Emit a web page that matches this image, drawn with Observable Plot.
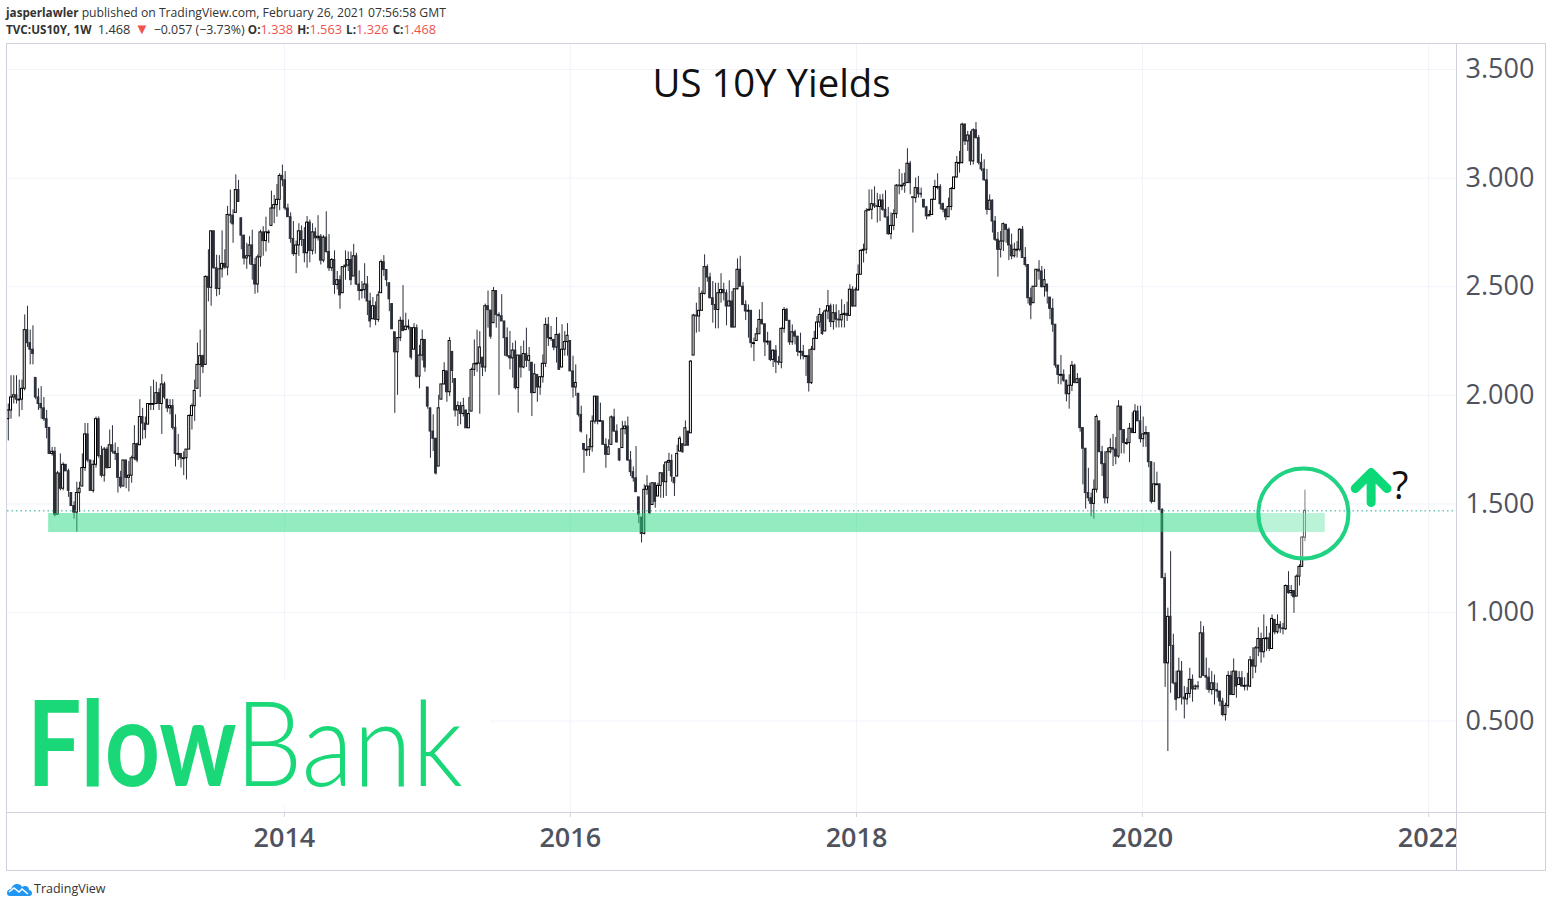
<!DOCTYPE html>
<html>
<head>
<meta charset="utf-8">
<script src="https://cdn.jsdelivr.net/npm/d3@7"></script>
<script src="https://cdn.jsdelivr.net/npm/@observablehq/plot@0.6"></script>
<style>
html,body{margin:0;padding:0;background:#fff;width:1552px;height:907px;overflow:hidden;font-family:"Open Sans",sans-serif;}
#hdr{position:absolute;left:6px;top:4px;font-size:12.2px;line-height:17px;color:#333;white-space:nowrap;}
#hdr b{font-weight:700;font-size:11.7px;}
#hdr .v{font-size:12.8px;}
#hdr .r{color:#ef5350;font-size:12.8px;}
#hdr .t{color:#ef5350;font-size:15px;line-height:12px;margin:0 1px;}
#hdr .lab{margin-left:4px;}
#box{position:absolute;left:6px;top:43px;width:1538px;height:826px;border:1px solid #cfd2dc;pointer-events:none;z-index:5;}
#chart{position:absolute;left:0;top:44px;}
#cover{position:absolute;left:1456px;top:812px;width:88px;height:57px;background:#fff;border-left:1px solid #cfd2dc;border-top:1px solid #cfd2dc;z-index:3;}
#logo{position:absolute;left:7px;top:681px;width:483px;height:124px;background:#fff;z-index:2;color:#1ad878;}
#logo span{position:absolute;top:-3px;line-height:124px;font-family:Lato,sans-serif;font-size:119px;white-space:nowrap;transform-origin:left center;}
#ft{position:absolute;left:34px;top:880px;font-size:12.5px;line-height:17px;color:#333;}
#cloud{position:absolute;left:6px;top:881px;}
</style>
</head>
<body>
<div id="hdr"><b>jasperlawler</b> published on TradingView.com, February 26, 2021 07:56:58 GMT<br>
<b>TVC:US10Y, 1W</b>&nbsp;&nbsp;<span class="v">1.468</span> <span class="t">▼</span> <span style="font-size:12.4px">−0.057 (−3.73%)</span> <b>O:</b><span class="r">1.338</span><b class="lab">H:</b><span class="r">1.563</span><b class="lab">L:</b><span class="r">1.326</span><b class="lab">C:</b><span class="r">1.468</span></div>
<div id="chart"></div>
<div id="cover"></div>
<div id="box"></div>
<div id="logo"><span style="left:20px;font-weight:700;transform:scaleX(.81);">Flow</span><span style="left:228px;font-weight:300;transform:scaleX(.897);">Bank</span></div>
<svg id="cloud" width="27" height="16" viewBox="0 0 27 16"><path d="M1 12c0-3 2-4 4-4 1-3 3-5 6-5 3 0 4 1 5 3 1-1 2-1 3-1 3 0 4 2 4 4 2 0 3 2 3 3 0 2-1 3-3 3H4c-2 0-3-1-3-3z" fill="#2196f3"/><path d="M3 11l5-4 5 4 3-3 6 5" stroke="#fff" stroke-width="1.6" fill="none"/></svg>
<div id="ft">TradingView</div>
<script>
const lastWeek = new Date(Date.UTC(2021, 1, 19));
const firstOpen = 1.89;
const lastPrice = 1.468;
const bandValues = [1.368, 1.456];
const yTicks = [0.5, 1, 1.5, 2, 2.5, 3, 3.5];
const yearTicks = [2014, 2016, 2018, 2020, 2022].map(y => new Date(Date.UTC(y, 0, 1)));

const closes = [
1.93,1.99,2.00,1.98,1.98,2.03,2.30,2.24,2.21,2.19,
1.99,1.96,1.94,1.89,1.85,1.73,1.74,1.45,1.64,1.57,
1.68,1.65,1.56,1.49,1.46,1.55,1.57,1.665,1.82,1.70,
1.56,1.68,1.89,1.72,1.63,1.75,1.665,1.77,1.74,1.73,
1.62,1.58,1.70,1.62,1.63,1.71,1.775,1.70,1.90,1.87,
1.84,1.96,1.96,1.96,2.01,1.96,2.05,1.99,1.94,1.95,
1.85,1.73,1.73,1.71,1.71,1.75,1.905,1.95,2.02,2.14,
2.18,2.13,2.545,2.495,2.755,2.585,2.49,2.58,2.605,2.588,
2.83,2.827,2.787,2.945,2.89,2.735,2.63,2.64,2.69,2.60,
2.51,2.635,2.75,2.71,2.75,2.75,2.86,2.876,2.90,3.01,
2.99,2.86,2.82,2.72,2.65,2.69,2.755,2.715,2.654,2.795,
2.665,2.75,2.723,2.73,2.62,2.726,2.66,2.585,2.623,2.508,
2.53,2.46,2.59,2.597,2.623,2.53,2.64,2.51,2.48,2.484,
2.51,2.432,2.34,2.41,2.347,2.46,2.613,2.577,2.53,2.442,
2.304,2.198,2.263,2.343,2.296,2.316,2.316,2.174,2.309,2.086,
2.183,2.255,2.128,1.948,1.833,1.80,1.64,1.94,2.05,2.112,
2.014,2.25,2.112,1.93,1.95,1.914,1.95,1.848,1.914,2.117,
2.143,2.146,2.22,2.128,2.41,2.392,2.27,2.48,2.37,2.364,
2.34,2.263,2.18,2.17,2.206,2.033,2.183,2.128,2.19,2.159,
2.18,2.01,2.097,2.036,2.083,2.145,2.324,2.263,2.263,2.22,
2.278,2.117,2.21,2.245,2.274,2.11,2.036,2.057,1.91,1.833,
1.749,1.749,1.761,1.879,1.994,1.879,1.882,1.772,1.726,1.76,
1.898,1.833,1.783,1.70,1.844,1.856,1.70,1.646,1.618,1.554,
1.45,1.362,1.565,1.58,1.457,1.595,1.51,1.583,1.641,1.60,
1.69,1.698,1.626,1.595,1.73,1.80,1.738,1.848,1.768,2.155,
2.367,2.363,2.389,2.467,2.59,2.542,2.447,2.416,2.393,2.47,
2.485,2.47,2.409,2.432,2.312,2.488,2.578,2.50,2.416,2.386,
2.389,2.24,2.24,2.281,2.347,2.327,2.244,2.247,2.163,2.205,
2.152,2.15,2.306,2.393,2.343,2.244,2.29,2.27,2.20,2.20,
2.18,2.18,2.056,2.21,2.26,2.335,2.37,2.282,2.386,2.41,
2.337,2.378,2.348,2.345,2.37,2.375,2.366,2.486,2.409,2.483,
2.555,2.665,2.67,2.847,2.854,2.88,2.87,2.867,2.897,2.854,
2.819,2.742,2.78,2.834,2.965,2.962,2.965,2.974,3.066,2.977,
2.908,2.954,2.926,2.924,2.865,2.824,2.83,2.90,2.959,2.959,
2.88,2.854,2.82,2.867,2.95,3.003,3.07,3.07,3.246,3.169,
3.196,3.077,3.22,3.184,3.07,3.04,2.99,2.854,2.896,2.80,
2.716,2.67,2.708,2.788,2.762,2.69,2.64,2.67,2.67,2.762,
2.632,2.60,2.447,2.414,2.50,2.578,2.57,2.498,2.53,2.478,
2.398,2.325,2.137,2.094,2.094,2.067,2.005,2.044,2.136,2.056,
2.074,1.849,1.754,1.55,1.526,1.50,1.565,1.90,1.738,1.683,
1.526,1.738,1.757,1.75,1.718,1.948,1.84,1.78,1.78,1.846,
1.826,1.925,1.88,1.798,1.82,1.826,1.692,1.51,1.59,1.59,
1.473,1.158,0.766,0.98,0.846,0.674,0.598,0.728,0.608,0.60,
0.625,0.69,0.646,0.659,0.656,0.904,0.708,0.70,0.643,0.674,
0.643,0.636,0.59,0.528,0.57,0.708,0.62,0.728,0.659,0.697,
0.659,0.662,0.659,0.78,0.751,0.835,0.878,0.817,0.878,0.881,
0.832,0.97,0.909,0.943,0.927,0.923,1.122,1.089,1.099,1.07,
1.165,1.21,1.345,1.468
];
const highs = [
1.96,2.09,2.09,2.09,2.07,2.07,2.37,2.41,2.30,2.32,
2.08,2.03,2.04,1.99,1.93,1.85,1.76,1.76,1.65,1.73,
1.69,1.68,1.66,1.55,1.51,1.60,1.60,1.73,1.87,1.87,
1.70,1.70,1.90,1.90,1.765,1.76,1.76,1.84,1.86,1.78,
1.76,1.65,1.70,1.70,1.695,1.72,1.86,1.78,1.98,1.94,
1.90,1.96,2.04,2.07,2.06,2.03,2.095,2.06,1.98,1.98,
1.98,1.91,1.82,1.73,1.74,1.75,1.91,1.96,2.07,2.24,
2.30,2.185,2.55,2.67,2.756,2.756,2.645,2.643,2.757,2.67,
2.87,2.945,2.854,3.015,2.99,2.815,2.735,2.70,2.73,2.76,
2.63,2.646,2.76,2.776,2.82,2.76,2.94,2.92,2.97,3.02,
3.06,3.03,2.88,2.84,2.80,2.71,2.79,2.78,2.772,2.823,
2.807,2.79,2.77,2.827,2.74,2.735,2.845,2.74,2.63,2.665,
2.57,2.55,2.59,2.665,2.66,2.66,2.695,2.654,2.573,2.524,
2.606,2.547,2.47,2.45,2.43,2.477,2.623,2.643,2.577,2.516,
2.42,2.29,2.266,2.36,2.505,2.378,2.347,2.31,2.33,2.324,
2.23,2.30,2.255,2.036,1.94,1.91,1.80,2.0,2.05,2.15,
2.11,2.266,2.20,2.075,1.97,1.968,1.986,1.93,1.99,2.125,
2.255,2.30,2.293,2.173,2.42,2.48,2.39,2.496,2.48,2.38,
2.463,2.34,2.31,2.294,2.24,2.25,2.183,2.225,2.25,2.309,
2.22,2.15,2.143,2.094,2.086,2.186,2.355,2.358,2.317,2.255,
2.358,2.286,2.325,2.294,2.33,2.25,2.18,2.14,2.007,1.95,
1.776,1.818,1.80,1.905,1.994,1.994,1.964,1.88,1.80,1.795,
1.905,1.936,1.864,1.752,1.88,1.88,1.90,1.741,1.67,1.764,
1.53,1.437,1.588,1.63,1.595,1.595,1.595,1.595,1.641,1.68,
1.695,1.733,1.726,1.62,1.77,1.81,1.775,1.882,1.833,2.16,
2.373,2.424,2.496,2.48,2.647,2.60,2.562,2.524,2.516,2.516,
2.56,2.516,2.485,2.527,2.478,2.49,2.628,2.64,2.519,2.435,
2.416,2.39,2.263,2.309,2.393,2.427,2.327,2.29,2.25,2.21,
2.229,2.178,2.31,2.404,2.40,2.343,2.324,2.30,2.27,2.286,
2.23,2.18,2.21,2.225,2.294,2.363,2.40,2.38,2.394,2.483,
2.42,2.417,2.417,2.39,2.44,2.417,2.429,2.509,2.50,2.494,
2.60,2.67,2.696,2.859,2.946,2.946,2.96,2.93,2.923,2.926,
2.942,2.865,2.84,2.854,2.97,3.04,3.02,3.023,3.135,3.077,
2.91,3.0,3.008,2.954,2.90,2.87,2.85,2.903,2.99,3.02,
2.97,2.885,2.86,2.908,2.957,3.005,3.10,3.123,3.253,3.25,
3.215,3.215,3.227,3.256,3.196,3.11,3.084,3.04,2.923,2.90,
2.823,2.75,2.754,2.793,2.785,2.77,2.742,2.70,2.708,2.767,
2.777,2.68,2.60,2.493,2.50,2.578,2.62,2.593,2.58,2.51,
2.45,2.444,2.325,2.137,2.183,2.117,2.07,2.094,2.156,2.143,
2.10,2.08,1.85,1.754,1.664,1.55,1.61,1.91,1.88,1.765,
1.74,1.757,1.80,1.82,1.806,1.975,1.948,1.84,1.80,1.87,
1.92,1.957,1.95,1.95,1.90,1.856,1.826,1.692,1.69,1.646,
1.59,1.477,1.18,1.02,1.28,0.90,0.73,0.79,0.774,0.659,
0.654,0.743,0.712,0.666,0.682,0.958,0.935,0.79,0.743,0.728,
0.712,0.674,0.636,0.605,0.582,0.728,0.728,0.786,0.728,0.728,
0.728,0.70,0.72,0.797,0.838,0.843,0.93,0.905,0.989,0.935,
0.905,0.989,0.966,0.989,0.958,0.95,1.127,1.188,1.124,1.099,
1.173,1.22,1.35,1.563
];
const lows = [
1.79,1.89,1.96,1.96,1.90,1.93,2.02,2.22,2.14,2.14,
1.98,1.93,1.89,1.88,1.80,1.73,1.72,1.44,1.45,1.56,
1.56,1.65,1.53,1.49,1.43,1.37,1.46,1.58,1.65,1.69,
1.56,1.55,1.665,1.71,1.62,1.60,1.66,1.665,1.73,1.70,
1.55,1.57,1.58,1.57,1.555,1.595,1.70,1.69,1.77,1.795,
1.80,1.865,1.93,1.93,1.96,1.93,1.82,1.98,1.92,1.91,
1.84,1.67,1.70,1.665,1.63,1.61,1.75,1.84,1.88,2.03,
1.99,2.10,2.14,2.43,2.41,2.58,2.454,2.46,2.54,2.58,
2.55,2.79,2.70,2.84,2.89,2.67,2.60,2.58,2.60,2.53,
2.465,2.47,2.59,2.64,2.66,2.70,2.78,2.79,2.82,2.85,
2.96,2.85,2.82,2.70,2.64,2.56,2.64,2.685,2.61,2.585,
2.61,2.646,2.65,2.71,2.60,2.61,2.654,2.57,2.57,2.465,
2.485,2.396,2.47,2.53,2.57,2.505,2.547,2.505,2.435,2.444,
2.444,2.367,2.31,2.35,2.32,2.336,2.47,2.547,2.50,2.385,
2.304,1.917,2.0,2.247,2.293,2.30,2.30,2.163,2.21,2.08,
2.03,2.158,2.106,1.936,1.71,1.741,1.633,1.672,1.98,2.048,
1.968,1.994,2.055,1.90,1.856,1.864,1.90,1.848,1.848,1.925,
2.086,2.106,1.913,2.086,2.106,2.309,2.258,2.332,2.309,1.999,
2.34,2.18,2.174,2.117,2.079,2.025,1.918,2.079,2.122,2.128,
2.11,1.902,2.01,1.968,2.0,2.056,2.128,2.225,2.248,2.205,
2.148,2.117,2.128,2.18,2.18,2.11,1.987,1.995,1.90,1.826,
1.641,1.718,1.718,1.738,1.867,1.864,1.879,1.772,1.664,1.726,
1.772,1.83,1.78,1.695,1.757,1.818,1.695,1.626,1.60,1.554,
1.41,1.32,1.357,1.54,1.45,1.495,1.48,1.534,1.526,1.526,
1.534,1.649,1.60,1.534,1.626,1.741,1.733,1.768,1.768,1.825,
2.183,2.286,2.29,2.389,2.462,2.52,2.444,2.332,2.306,2.306,
2.424,2.435,2.32,2.409,2.31,2.312,2.485,2.50,2.413,2.344,
2.263,2.217,2.155,2.25,2.281,2.324,2.178,2.23,2.155,2.128,
2.10,2.137,2.122,2.286,2.34,2.23,2.23,2.232,2.178,2.163,
2.163,2.087,2.015,2.05,2.205,2.26,2.31,2.276,2.294,2.348,
2.312,2.30,2.31,2.31,2.31,2.31,2.34,2.363,2.405,2.409,
2.48,2.555,2.609,2.65,2.85,2.808,2.86,2.793,2.80,2.847,
2.816,2.736,2.716,2.758,2.813,2.923,2.942,2.93,2.977,2.923,
2.747,2.885,2.908,2.908,2.862,2.808,2.824,2.83,2.90,2.946,
2.854,2.84,2.804,2.82,2.85,2.946,3.0,3.023,3.064,3.15,
3.123,3.058,3.06,3.18,3.06,3.03,2.985,2.83,2.854,2.747,
2.708,2.544,2.632,2.662,2.70,2.62,2.624,2.632,2.632,2.66,
2.632,2.59,2.42,2.348,2.424,2.50,2.53,2.494,2.452,2.42,
2.348,2.29,2.125,2.05,2.048,2.06,1.97,1.936,2.017,2.056,
2.056,1.83,1.588,1.476,1.51,1.44,1.43,1.55,1.738,1.626,
1.50,1.50,1.73,1.672,1.68,1.71,1.73,1.73,1.77,1.69,
1.826,1.826,1.88,1.78,1.76,1.76,1.667,1.50,1.51,1.585,
1.473,1.158,0.655,0.36,0.628,0.667,0.547,0.605,0.574,0.51,
0.574,0.605,0.587,0.643,0.643,0.70,0.705,0.643,0.628,0.62,
0.574,0.605,0.567,0.52,0.50,0.559,0.62,0.62,0.605,0.666,
0.659,0.639,0.639,0.654,0.694,0.72,0.797,0.766,0.79,0.82,
0.82,0.832,0.897,0.90,0.904,0.897,0.917,1.084,1.073,0.996,
1.073,1.122,1.21,1.326
];

const candles = closes.map((c, i) => {
  const prev = i ? closes[i - 1] : firstOpen;
  let o = Math.min(highs[i], Math.max(lows[i], prev));
  if (Math.abs(o - c) < 0.004) o = c + (c >= prev ? -0.004 : 0.004);
  const date = d3.utcWeek.offset(lastWeek, i - closes.length + 1);
  const half = c >= o ? 62 : 52;
  return {date, x1: d3.utcHour.offset(date, -half), x2: d3.utcHour.offset(date, half),
          open: o, close: c, high: highs[i], low: lows[i], up: c >= o};
});
const up = candles.filter(d => d.up), down = candles.filter(d => !d.up);

const bandStart = new Date(Date.UTC(2012, 4, 9)), bandEnd = new Date(Date.UTC(2021, 3, 12));
const circleAt = {date: new Date(Date.UTC(2021, 1, 15)), value: 1.456};
const arrowAt = {date: new Date(Date.UTC(2021, 7, 7)), value: 1.506};
const questionAt = {date: new Date(Date.UTC(2021, 9, 20)), value: 1.58, text: "?"};
const titleAt = {date: new Date(Date.UTC(2017, 4, 29)), value: 3.43, text: "US 10Y Yields"};
const upArrow = {draw(c, l) {
  c.moveTo(0, 0); c.lineTo(0, -l);
  c.moveTo(-l * 0.53, -l * 0.47); c.lineTo(0, -l); c.lineTo(l * 0.53, -l * 0.47);
}};
const axisColor = "#50535e";

const plot = Plot.plot({
  width: 1552, height: 826,
  marginLeft: 7, marginRight: 96, marginTop: 0, marginBottom: 58,
  style: {background: "transparent", fontFamily: "'Open Sans',sans-serif", overflow: "visible"},
  x: {type: "utc", domain: [new Date(Date.UTC(2012, 0, 25)), new Date(Date.UTC(2022, 2, 13))], label: null},
  y: {domain: [0.0792, 3.6151], label: null},
  marks: [
    Plot.gridY(yTicks, {stroke: "#f0f3fa", strokeOpacity: 1}),
    Plot.gridX(yearTicks, {stroke: "#f0f3fa", strokeOpacity: 1}),
    Plot.axisY(yTicks, {anchor: "right", tickSize: 0, tickPadding: 9, tickFormat: d3.format(".3f"),
      fontSize: 27, fontWeight: 500, fill: axisColor, label: null}),
    Plot.axisX(yearTicks, {anchor: "bottom", tickSize: 5, tickPadding: 10, tickFormat: d3.utcFormat("%Y"),
      fontSize: 27, fontWeight: 600, fill: axisColor, stroke: "#cfd2dc", label: null}),
    Plot.ruleX(candles, {x: "date", y1: "low", y2: "high", stroke: "#2a2e39", strokeWidth: 1, clip: true}),
    Plot.rect(down, {x1: "x1", x2: "x2", y1: "open", y2: "close", fill: "#2a2e39", stroke: "#2a2e39", strokeWidth: 1, clip: true}),
    Plot.rect(up, {x1: "x1", x2: "x2", y1: "open", y2: "close", fill: "#fff", stroke: "#000", strokeWidth: 1, clip: true}),
    Plot.rect([bandValues], {x1: bandStart, x2: bandEnd, y1: d => d[0], y2: d => d[1], fill: "#25d981", fillOpacity: 0.5}),
    Plot.dot([circleAt], {x: "date", y: "value", r: 45, fill: "#fff", fillOpacity: 0.38, stroke: "#22d283", strokeWidth: 4}),
    Plot.ruleY([lastPrice], {stroke: "#22ab94", strokeDasharray: "1.5,3", strokeWidth: 1}),
    Plot.vector([arrowAt], {x: "date", y: "value", length: 30, anchor: "start", shape: upArrow, stroke: "#0bd977",
      strokeWidth: 9, strokeLinecap: "round", strokeLinejoin: "round"}),
    Plot.text([questionAt], {x: "date", y: "value", text: "text", fontSize: 38, fill: "#111"}),
    Plot.text([titleAt], {x: "date", y: "value", text: "text", fontSize: 38.3, fill: "#111"}),
    Plot.ruleX([new Date(Date.UTC(2022, 2, 13))], {stroke: "#cfd2dc"}),
    Plot.ruleY([0.0792], {stroke: "#cfd2dc"})
  ]
});
document.getElementById("chart").appendChild(plot);
</script>
</body>
</html>
